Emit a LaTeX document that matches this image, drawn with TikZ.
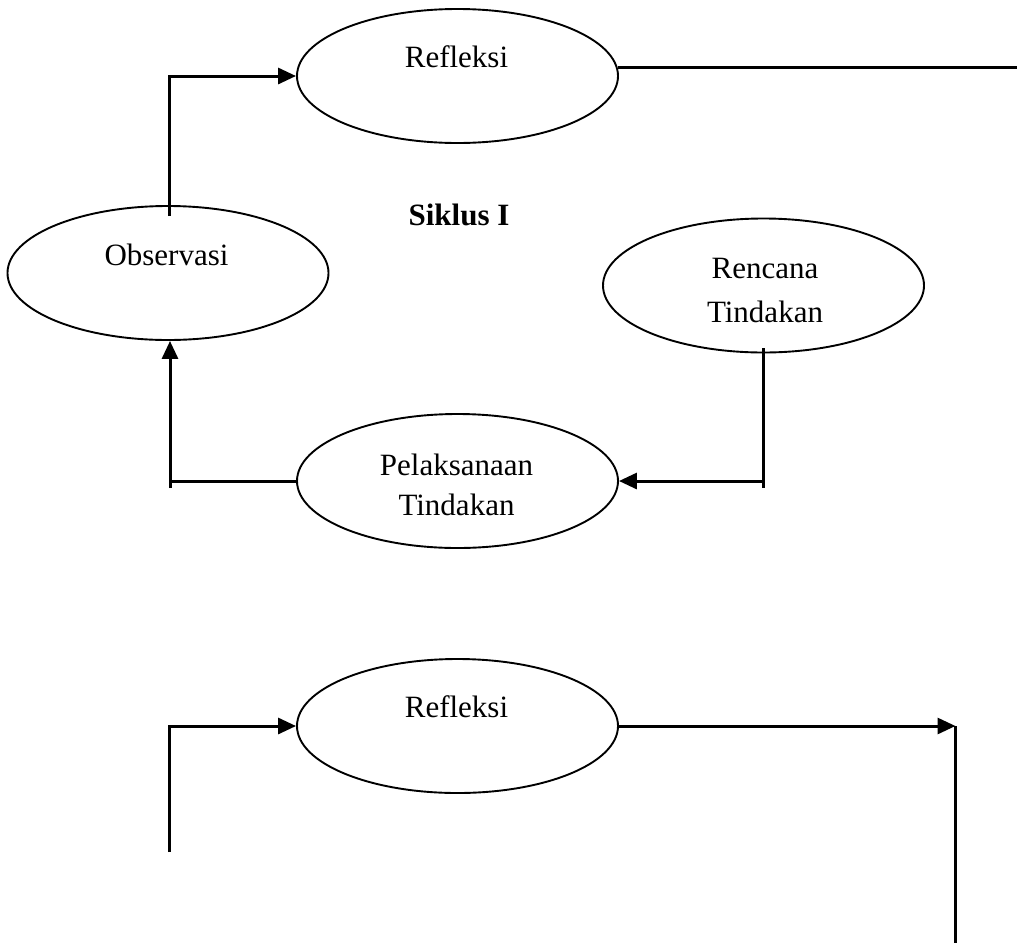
\documentclass[tikz,border=0pt]{standalone}
\usepackage{fontspec}
\setmainfont{Liberation Serif}
\usetikzlibrary{shapes.geometric,arrows.meta}
\begin{document}
\begin{tikzpicture}[x=1pt,y=-1pt,
  oval/.style={draw,line width=1.9pt,ellipse,inner sep=0pt,minimum width=321pt,minimum height=134pt},
  lbl/.style={font=\fontsize{31}{42}\selectfont,anchor=base,inner sep=0pt,align=center},
  conn/.style={line width=3pt},
  arr/.style={line width=3pt,-{Triangle[length=18pt,width=16pt]}}]
\useasboundingbox (0,0) rectangle (1017,943);
% ellipses
\node[oval] (ref1) at (457.5,76) {};
\node[oval] (obs) at (168,273) {};
\node[oval] (ren) at (763.5,285.5) {};
\node[oval] (pel) at (457.5,481) {};
\node[oval] (ref2) at (457.5,726) {};
% texts
\node[lbl] (tref1) at (456.5,67) {Refleksi};
\node[lbl] (tobs) at (166.5,265) {Observasi};
\node[lbl,font=\fontsize{31}{42}\selectfont\bfseries] (tsik) at (459,225) {Siklus I};
\node[lbl,font=\fontsize{31}{43.5}\selectfont] (tren) at (765,322) {Rencana\\Tindakan};
\node[lbl,font=\fontsize{31}{40}\selectfont] (tpel) at (456.5,515) {Pelaksanaan\\Tindakan};
\node[lbl] (tref2) at (456.5,717) {Refleksi};
% coordinates
\coordinate (c1) at (169.5,216);
\coordinate (r1end) at (1017,66);
\coordinate (c2) at (170,488);
\coordinate (c3) at (763.5,348);
\coordinate (c4) at (763.5,488);
\coordinate (c5) at (169.5,852);
\coordinate (c6) at (955.5,726);
\coordinate (c7) at (955.5,943);
% connectors
\draw[arr] (c1) |- (ref1.west);
\draw[conn] (ref1.3.6) -- (ref1.3.6 -| r1end);
\draw[arr] (c2) -- (c2 |- obs.south);
\draw[conn] (pel.west) -- (pel.west -| c2);
\draw[conn] (c3) -- (c4);
\draw[arr] (c4 |- pel.east) -- (pel.east);
\draw[arr] (c5) |- (ref2.west);
\draw[arr] (ref2.east) -- (c6);
\draw[conn] (c6) -- (c7);
\end{tikzpicture}
\end{document}
